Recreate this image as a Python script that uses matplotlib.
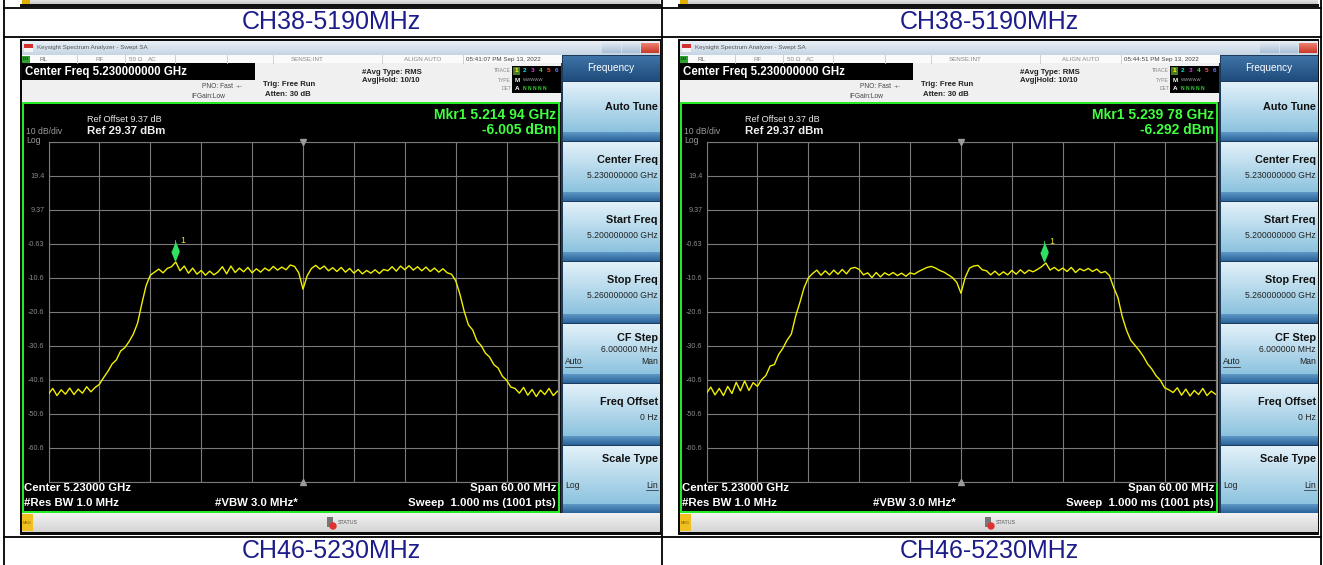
import numpy as np
import matplotlib
matplotlib.use("Agg")
import matplotlib.pyplot as plt
from matplotlib.patches import Rectangle
from matplotlib.colors import LinearSegmentedColormap

plt.rcParams['font.family'] = ['Liberation Sans', 'DejaVu Sans']

W, H = 1323, 565

# analyzer settings
start_ghz = 5.200
stop_ghz = 5.260
ref_dbm = 29.37
db_per_div = 10

captions_top = ["CH38-5190MHz", "CH38-5190MHz"]
captions_bottom = ["CH46-5230MHz", "CH46-5230MHz"]
timestamps = ["05:41:07 PM Sep 13, 2022", "05:44:51 PM Sep 13, 2022"]
mkr_ghz = [5.21494, 5.23978]
mkr_dbm = [-6.005, -6.292]
y_labels = ["19.4", "9.37", "-0.63", "-10.6", "-20.6", "-30.6", "-40.6", "-50.6", "-60.6"]

softkeys = ["Auto Tune", "Center Freq", "Start Freq", "Stop Freq", "CF Step", "Freq Offset", "Scale Type"]
softkey_values = ["", "5.230000000 GHz", "5.200000000 GHz", "5.260000000 GHz", "6.000000 MHz", "0 Hz", ""]

# trace readings, one every 0.5 MHz from 5200 to 5260 MHz (dBm)
trace_left = [
    -44.8, -43.2, -45.3, -43.6, -44.9, -43.1, -45.0, -43.4, -44.6, -42.7,
    -44.2, -42.9, -42.0, -40.0, -38.2, -36.0, -34.8, -32.2, -31.2, -29.4,
    -27.2, -24.0, -18.3, -13.0, -9.9, -9.0, -8.1, -9.2, -7.9, -7.4,
    -6.0, -8.6, -7.2, -9.3, -7.8, -9.6, -8.5, -9.9, -8.7, -9.8,
    -8.9, -7.4, -9.5, -7.2, -9.1, -7.8, -8.9, -7.6, -9.2, -8.0,
    -9.0, -7.8, -8.6, -7.3, -8.4, -7.5, -8.3, -6.9, -7.3, -9.2,
    -14.0, -10.0, -7.9, -7.0, -8.1, -7.2, -8.6, -7.7, -8.8, -7.6,
    -9.0, -7.9, -9.3, -8.2, -9.5, -8.5, -9.3, -8.3, -9.4, -8.2,
    -8.6, -7.4, -8.7, -7.2, -8.3, -7.1, -8.4, -7.4, -8.6, -7.5,
    -8.8, -7.8, -9.0, -8.0, -9.2, -9.6, -11.5, -15.5, -20.5, -24.5,
    -26.0, -29.2, -30.6, -32.8, -34.0, -36.2, -37.2, -39.6, -40.8, -42.8,
    -43.2, -44.6, -42.9, -45.2, -43.5, -45.6, -43.7, -45.0, -43.2, -45.3,
    -44.0,
]
trace_right = [
    -44.6, -42.8, -45.1, -43.2, -45.3, -42.6, -44.7, -41.4, -43.9, -41.0,
    -43.8, -41.5, -42.6, -40.6, -39.4, -36.6, -36.2, -33.2, -31.4, -29.0,
    -27.2, -22.0, -18.0, -13.6, -10.7, -9.4, -8.4, -9.9, -8.6, -9.8,
    -8.4, -9.6, -8.2, -9.5, -7.9, -7.6, -8.2, -9.8, -9.2, -10.6,
    -9.1, -10.4, -9.2, -9.9, -9.1, -10.0, -9.3, -10.2, -9.2, -9.6,
    -8.8, -8.2, -7.6, -7.3, -7.8, -8.5, -9.0, -9.8, -10.6, -12.0,
    -15.2, -10.5, -7.8, -7.2, -7.0, -8.3, -8.6, -9.8, -8.7, -9.9,
    -8.9, -9.8, -8.5, -9.6, -8.3, -9.4, -8.4, -8.9, -8.2, -7.4,
    -6.3, -8.4, -7.6, -8.6, -7.8, -8.8, -7.6, -9.1, -8.0, -8.6,
    -7.9, -8.8, -8.1, -9.2, -8.8, -10.0, -13.5, -16.5, -22.0, -26.0,
    -29.0, -30.5, -32.0, -33.8, -36.0, -37.5, -39.5, -40.8, -43.0, -43.6,
    -44.4, -43.0, -45.2, -43.4, -45.4, -43.8, -45.0, -43.2, -45.3, -44.0,
    -44.9,
]
traces = [trace_left, trace_right]

fig = plt.figure(figsize=(W / 100, H / 100), dpi=100)
bg = fig.add_axes([0, 0, 1, 1])
bg.set_zorder(0)
bg.axis('off')


def rect(x0, y0, x1, y1, color, z=1, **kw):
    bg.add_patch(Rectangle((x0, y0), x1 - x0, y1 - y0, facecolor=color,
                           edgecolor='none', zorder=z, **kw))


def vgrad(x0, y0, x1, y1, c_top, c_bot, z=1):
    cmap = LinearSegmentedColormap.from_list("g", [c_top, c_bot])
    bg.imshow(np.linspace(0, 1, 32).reshape(-1, 1), cmap=cmap, aspect='auto',
              extent=(x0, x1, y1, y0), interpolation='bilinear', zorder=z)


def txt(x, y, s, size, color='#222222', ha='left', weight='normal', z=5):
    bg.text(x, y, s, fontsize=size, color=color, ha=ha, va='center',
            fontweight=weight, zorder=z)


def draw_panel(k, dx):
    # top strip: bottom of the screenshot from the row above
    vgrad(22 + dx, 0, 660 + dx, 4, '#e4e4e4', '#c8c8c8')
    rect(22 + dx, 0, 30 + dx, 4, '#e0b000', z=2)
    rect(20 + dx, 4, 661 + dx, 7, '#111111')

    # screenshot frame
    rect(20 + dx, 39, 661 + dx, 535, '#0a0a0a')
    vgrad(22 + dx, 41, 660 + dx, 55, '#e8eff6', '#c6d5e4')
    rect(24 + dx, 44, 33 + dx, 48, '#d03030', z=2)
    rect(24 + dx, 48, 33 + dx, 52, '#f4f4f4', z=2)
    txt(37 + dx, 48, "Keysight Spectrum Analyzer - Swept SA", 4.5, '#555555')
    vgrad(602 + dx, 43, 621 + dx, 53, '#dce6f0', '#a9bfd6', z=2)
    vgrad(622 + dx, 43, 640 + dx, 53, '#dce6f0', '#a9bfd6', z=2)
    vgrad(641 + dx, 43, 659 + dx, 53, '#f08070', '#c83828', z=2)

    # status row and header area
    rect(22 + dx, 55, 562 + dx, 102, '#f0f0f0')
    rect(22 + dx, 55, 562 + dx, 63, '#fafafa', z=2)
    rect(22 + dx, 56, 30 + dx, 63, '#30a030', z=3)
    txt(23 + dx, 59.5, "LXI", 2.8, '#000000', z=6)
    for sx in [77, 125, 175, 227, 273, 382, 463]:
        bg.plot([sx + dx, sx + dx], [55, 63], color='#c8c8c8', lw=0.6, zorder=3)
    txt(40 + dx, 59.5, "RL", 4.5, '#666666')
    txt(95 + dx, 59.5, "RF", 4.5, '#888888')
    txt(129 + dx, 59.5, "50 Ω", 4.5, '#888888')
    txt(148 + dx, 59.5, "AC", 4.5, '#888888')
    txt(291 + dx, 59.5, "SENSE:INT", 4.5, '#888888')
    txt(404 + dx, 59.5, "ALIGN AUTO", 4.5, '#888888')
    txt(466 + dx, 59.5, timestamps[k], 4.5, '#444444')

    rect(22 + dx, 63, 255 + dx, 80, '#000000', z=2)
    txt(25 + dx, 71.5, "Center Freq 5.230000000 GHz", 8.3, 'white', weight='bold')
    txt(233 + dx, 87, "PNO: Fast", 4.8, '#444444', ha='right')
    txt(236 + dx, 87, "-+-", 4.0, '#444444')
    txt(191 + dx, 96.5, "IFGain:Low", 4.8, '#444444')
    txt(263 + dx, 85, "Trig: Free Run", 5.6, '#222222', weight='bold')
    txt(265 + dx, 95, "Atten: 30 dB", 5.6, '#222222', weight='bold')
    txt(362 + dx, 72, "#Avg Type: RMS", 5.6, '#222222', weight='bold')
    txt(362 + dx, 81, "Avg|Hold: 10/10", 5.6, '#222222', weight='bold')

    txt(511 + dx, 71, "TRACE", 3.6, '#888888', ha='right')
    txt(511 + dx, 80, "TYPE", 3.6, '#888888', ha='right')
    txt(511 + dx, 89, "DET", 3.6, '#888888', ha='right')
    rect(512 + dx, 66, 561 + dx, 93, '#000000', z=2)
    rect(513 + dx, 67, 520 + dx, 75, '#4a7a20', z=3)
    for j, c in enumerate(['#ffff30', '#20e0e0', '#e040e0', '#40e040', '#ff5050', '#7070ff']):
        txt(515 + 8 * j + dx, 71, str(j + 1), 4.6, c, weight='bold')
    txt(515 + dx, 80, "M", 4.6, 'white', weight='bold')
    txt(523 + dx, 80, "WWWWW", 3.2, '#aaaaaa')
    txt(515 + dx, 89, "A", 4.6, 'white', weight='bold')
    txt(523 + dx, 89, "N N N N N", 3.6, '#30dd30', weight='bold')

    # measurement display
    rect(22 + dx, 102, 560 + dx, 513, '#000000', z=2)
    bg.add_patch(Rectangle((23 + dx, 103), 535.5, 409, facecolor='none',
                           edgecolor='#28f028', lw=1.4, zorder=3))
    txt(87 + dx, 119, "Ref Offset 9.37 dB", 6.6, '#e8e8e8')
    txt(87 + dx, 131, "Ref 29.37 dBm", 8.2, '#f0f0f0', weight='bold')
    txt(26 + dx, 132, "10 dB/div", 6.2, '#9a9a9a')
    txt(26 + dx, 140.5, "Log", 6.2, '#9a9a9a')
    ghz = f"{mkr_ghz[k]:.5f}"
    txt(556 + dx, 115, f"Mkr1 {ghz[:5]} {ghz[5:]} GHz", 10, '#40ff40', ha='right', weight='bold')
    txt(556 + dx, 130, f"{mkr_dbm[k]:.3f} dBm", 10, '#40ff40', ha='right', weight='bold')
    txt(24 + dx, 488, "Center 5.23000 GHz", 8.2, 'white', weight='bold')
    txt(556 + dx, 488, "Span 60.00 MHz", 8.2, 'white', ha='right', weight='bold')
    txt(24 + dx, 503, "#Res BW 1.0 MHz", 8.2, 'white', weight='bold')
    txt(215 + dx, 503, "#VBW 3.0 MHz*", 8.2, 'white', weight='bold')
    txt(556 + dx, 503, "Sweep  1.000 ms (1001 pts)", 8.2, 'white', ha='right', weight='bold')

    # softkey panel
    rect(561 + dx, 55, 660 + dx, 513, '#1c3a5c')
    vgrad(563 + dx, 56, 660 + dx, 81, '#3f73a6', '#1f4c7c', z=2)
    txt(611 + dx, 68, "Frequency", 7.2, 'white', ha='center')
    spans = [(81, 141), (141, 201), (201, 261), (261, 323), (323, 383), (383, 445), (445, 513)]
    for (y0, y1), lab, val in zip(spans, softkeys, softkey_values):
        vgrad(563 + dx, y0 + 1, 660 + dx, y1 - 9, '#e2f1f9', '#8dc3df', z=2)
        vgrad(563 + dx, y1 - 9, 660 + dx, y1, '#5d98c6', '#2a6399', z=2)
        if lab == "Auto Tune":
            txt(658 + dx, y0 + 26, lab, 7.8, '#111111', ha='right', weight='bold')
        elif lab == "CF Step":
            txt(658 + dx, y0 + 15, lab, 7.8, '#111111', ha='right', weight='bold')
            txt(658 + dx, y0 + 27, val, 6.2, '#222222', ha='right')
            txt(565 + dx, y0 + 39, "Auto", 6.2, '#222222')
            bg.plot([565 + dx, 582 + dx], [y0 + 44, y0 + 44], color='#222222', lw=0.5, zorder=5)
            txt(658 + dx, y0 + 39, "Man", 6.2, '#222222', ha='right')
        elif lab == "Scale Type":
            txt(658 + dx, y0 + 14, lab, 7.8, '#111111', ha='right', weight='bold')
            txt(565 + dx, y0 + 40, "Log", 6.2, '#222222')
            txt(658 + dx, y0 + 40, "Lin", 6.2, '#222222', ha='right')
            bg.plot([646 + dx, 658 + dx], [y0 + 45, y0 + 45], color='#222222', lw=0.5, zorder=5)
        else:
            txt(658 + dx, y0 + 19, lab, 7.8, '#111111', ha='right', weight='bold')
            txt(658 + dx, y0 + 35, val, 6.2, '#222222', ha='right')

    # message bar
    vgrad(22 + dx, 513, 660 + dx, 532, '#f2f2f2', '#d4d4d4')
    rect(22 + dx, 514, 33 + dx, 531, '#f0c020', z=2)
    txt(23 + dx, 522.5, "MSG", 2.8, '#7a5a00')
    rect(327 + dx, 517, 333 + dx, 527, '#777777', z=2)
    bg.add_patch(plt.Circle((333 + dx, 526), 3, color='#e03030', zorder=3))
    txt(338 + dx, 522, "STATUS", 3.8, '#555555')

    # graticule with the trace
    ax = fig.add_axes([(48.5 + dx) / W, 1 - 481.7 / H, 509 / W, 340 / H])
    ax.set_zorder(3)
    ax.set_facecolor('black')
    ax.set_xlim(start_ghz, stop_ghz)
    ax.set_ylim(ref_dbm - 10 * db_per_div, ref_dbm)
    ax.set_xticks(np.linspace(start_ghz, stop_ghz, 11))
    ax.set_xticklabels([])
    ax.set_yticks(ref_dbm - db_per_div * np.arange(11)[::-1])
    ax.set_yticklabels([""] + y_labels[::-1] + [""])
    ax.tick_params(length=0, labelsize=5.2, labelcolor='#8a8a8a', pad=3)
    ax.grid(color='#7a7a7a', lw=0.8)
    for s in ax.spines.values():
        s.set_color('#7a7a7a')
        s.set_linewidth(0.8)
    freqs = np.linspace(start_ghz, stop_ghz, len(traces[k]))
    ax.plot(freqs, traces[k], color='#f0f000', lw=1.0, zorder=4)
    mid = (start_ghz + stop_ghz) / 2
    ax.plot([mid], [ref_dbm], marker='v', ms=4, color='#9a9a9a', clip_on=False, zorder=5)
    ax.plot([mid], [ref_dbm - 10 * db_per_div], marker='^', ms=4, color='#9a9a9a',
            clip_on=False, zorder=5)
    diamond = [(0, 1), (0.4, 0), (0, -1), (-0.4, 0)]
    ax.plot([mkr_ghz[k], mkr_ghz[k]], [mkr_dbm[k] + 1, mkr_dbm[k] + 6.5], color='#30e060', lw=0.6, zorder=5)
    ax.plot([mkr_ghz[k]], [mkr_dbm[k] + 3.2], marker=diamond, ms=13, color='#30e060', zorder=6)
    ax.text(mkr_ghz[k] + 0.0006, mkr_dbm[k] + 5.6, "1", color='#e8e830', fontsize=6.5, zorder=6)


for k, dx in enumerate([0, 658]):
    draw_panel(k, dx)
    txt(331 + dx, 22, captions_top[k], 18, '#1c1c8a', ha='center')
    txt(331 + dx, 551, captions_bottom[k], 18, '#1c1c8a', ha='center')

# table lines
for x in [4, 662, 1320.5]:
    bg.plot([x, x], [0, 565], color='black', lw=1.3, zorder=8)
for y in [7.5, 37, 537]:
    bg.plot([4, 1320.5], [y, y], color='black', lw=1.3, zorder=8)

bg.set_xlim(0, W)
bg.set_ylim(H, 0)
fig.savefig("out.png", dpi=100, facecolor='white')
